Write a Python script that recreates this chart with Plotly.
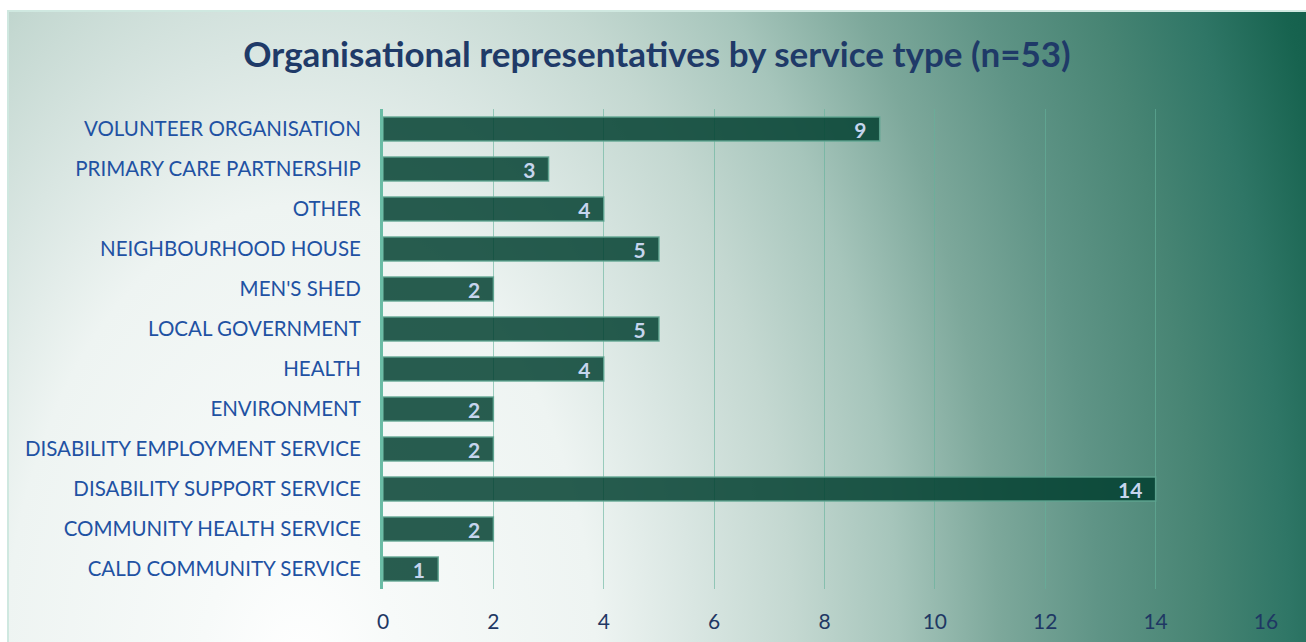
import base64
import plotly.graph_objects as go

# ---- data (top to bottom as shown) ----
categories = [
    "VOLUNTEER ORGANISATION",
    "PRIMARY CARE PARTNERSHIP",
    "OTHER",
    "NEIGHBOURHOOD HOUSE",
    "MEN'S SHED",
    "LOCAL GOVERNMENT",
    "HEALTH",
    "ENVIRONMENT",
    "DISABILITY EMPLOYMENT SERVICE",
    "DISABILITY SUPPORT SERVICE",
    "COMMUNITY HEALTH SERVICE",
    "CALD COMMUNITY SERVICE",
]
counts = [9, 3, 4, 5, 2, 5, 4, 2, 2, 14, 2, 1]
x_ticks = [0, 2, 4, 6, 8, 10, 12, 14, 16]
title_text = "Organisational representatives by service type (n=53)"

# ---- figure geometry (pixels) ----
W, H = 1306, 642
PL, PR, PT, PB = 383, 1266, 109, 589  # plot area edges

# ---- background gradient as SVG image ----
stops = [
    (0.00, "#ffffff"), (0.09, "#f7faf9"), (0.27, "#eef4f2"), (0.36, "#d9e6e2"),
    (0.45, "#c4d8d1"), (0.545, "#a6c5bb"), (0.636, "#7da89b"), (0.727, "#5f9486"),
    (0.818, "#488574"), (0.90, "#2f7666"), (0.973, "#17634f"), (1.0, "#135f4b"),
]
cx, cy, k, R = 300, 680, 1.6, 1100
stop_xml = "".join(f'<stop offset="{o}" stop-color="{c}"/>' for o, c in stops)
svg = (
    f'<svg xmlns="http://www.w3.org/2000/svg" width="{W}" height="{H}" viewBox="0 0 {W} {H}">'
    f'<defs><radialGradient id="g" gradientUnits="userSpaceOnUse" cx="{cx}" cy="{cy}" r="{R}" '
    f'gradientTransform="translate({cx},{cy}) scale(1,{k}) translate({-cx},{-cy})">{stop_xml}</radialGradient></defs>'
    f'<rect x="0" y="0" width="{W}" height="{H}" fill="#ffffff"/>'
    f'<rect x="8" y="11" width="{W}" height="{H}" fill="url(#g)" stroke="#cfe8e0" stroke-width="2"/>'
    f'</svg>'
)
src = "data:image/svg+xml;base64," + base64.b64encode(svg.encode()).decode()

pw, ph = PR - PL, PB - PT

fig = go.Figure()
fig.add_trace(go.Bar(
    y=categories,
    x=counts,
    orientation="h",
    width=0.6,
    marker=dict(color="rgba(0,62,46,0.84)",
                line=dict(color="rgba(95,165,145,0.9)", width=1.5)),
    text=[f"{v}\u00a0\u00a0" for v in counts],
    textposition="inside",
    insidetextanchor="end",
    constraintext="none",
    textangle=0,
    textfont=dict(family="Lato", size=21, color="#c6d5ee", weight="bold"),
    cliponaxis=False,
    hoverinfo="skip",
))

fig.update_layout(
    width=W, height=H,
    margin=dict(l=PL, r=W - PR, t=PT, b=H - PB, pad=0, autoexpand=False),
    paper_bgcolor="white",
    plot_bgcolor="rgba(0,0,0,0)",
    showlegend=False,
    title=dict(text=title_text, x=657 / W, xanchor="center", y=1 - 55 / H, yanchor="middle",
               font=dict(family="Lato", size=35, color="#1f3a68", weight="bold")),
    images=[dict(source=src, xref="paper", yref="paper",
                 x=-PL / pw, y=1 + PT / ph, sizex=W / pw, sizey=H / ph,
                 xanchor="left", yanchor="top", sizing="stretch", layer="below")],
    bargap=0.4,
)
fig.update_xaxes(
    range=[0, 16], tickvals=x_ticks, ticktext=[str(t) for t in x_ticks],
    showgrid=True, gridcolor="rgba(100,178,155,0.6)", gridwidth=1.3,
    zeroline=False, showline=False, ticks="",
    tickfont=dict(family="Lato", size=21, color="#1f3864"),
    ticklabelstandoff=18, fixedrange=True, automargin=False,
)
fig.update_yaxes(
    autorange="reversed", showgrid=False, zeroline=False,
    showline=True, linecolor="#6abca5", linewidth=3, ticks="",
    tickfont=dict(family="Lato", size=20.5, color="#1f52a3"),
    ticklabelstandoff=15, fixedrange=True, automargin=False,
)

fig.write_html("out.html")
